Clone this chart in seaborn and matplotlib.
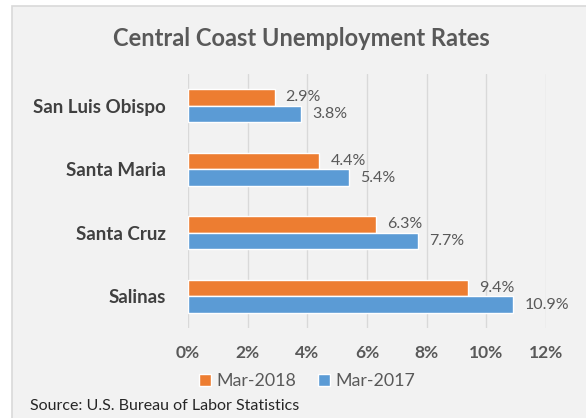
import matplotlib
matplotlib.use("Agg")
import matplotlib.pyplot as plt
import matplotlib.transforms as mtransforms
from matplotlib.patches import Rectangle
from matplotlib.ticker import FuncFormatter
import pandas as pd
import seaborn as sns

# Unemployment rates (%) by city
cities = ["San Luis Obispo", "Santa Maria", "Santa Cruz", "Salinas"]
rate_mar_2018 = [2.9, 4.4, 6.3, 9.4]
rate_mar_2017 = [3.8, 5.4, 7.7, 10.9]
periods = ["Mar-2018", "Mar-2017"]
x_ticks = [0, 2, 4, 6, 8, 10, 12]

df = pd.DataFrame({
    "city": cities * 2,
    "rate": rate_mar_2018 + rate_mar_2017,
    "period": [periods[0]] * len(cities) + [periods[1]] * len(cities),
})

sns.set_theme(style="white")
plt.rcParams["font.family"] = ["Lato", "DejaVu Sans"]

W, H = 586, 418
fig = plt.figure(figsize=(W / 100, H / 100), dpi=100)
fig.patch.set_facecolor("white")

# chart frame
frame = Rectangle((12 / W, -0.05), 1.0, 1.05 - 6.5 / H, transform=fig.transFigure,
                  facecolor="#f2f2f2", edgecolor="#d9d9d9", linewidth=1.2, zorder=-5)
fig.patches.append(frame)

ax = fig.add_axes([188 / W, 1 - 328 / H, 358 / W, 254 / H])
ax.set_facecolor("none")
ax.set_zorder(2)

palette = {"Mar-2018": "#ED7D31", "Mar-2017": "#5B9BD5"}
sns.barplot(data=df, y="city", x="rate", hue="period", order=cities,
            hue_order=periods, palette=palette, orient="h", width=0.52,
            saturation=1, ax=ax, legend=False, zorder=3)

# value labels, nudged slightly below the bar centre
nudge = mtransforms.ScaledTranslation(0, -2 / 100, fig.dpi_scale_trans)
for cont in ax.containers:
    texts = ax.bar_label(cont, labels=[f"{v:.1f}%" for v in cont.datavalues],
                         padding=8, color="#595959", fontsize=11.5)
    for t in texts:
        t.set_transform(t.get_transform() + nudge)

ax.set_xlim(0, 12)
ax.set_ylim(3.5, -0.5)
ax.set_xticks(x_ticks)
ax.xaxis.set_major_formatter(FuncFormatter(lambda v, p: f"{v:.0f}%"))
ax.grid(axis="x", color="#d9d9d9", linewidth=1, zorder=0)
ax.set_axisbelow(True)
for s in ax.spines.values():
    s.set_visible(False)
ax.tick_params(axis="both", length=0)
ax.tick_params(axis="x", pad=12, labelsize=12.5, labelcolor="#595959")
ax.tick_params(axis="y", pad=16, labelsize=13.5, labelcolor="#404040")
for t in ax.get_xticklabels() + ax.get_yticklabels():
    t.set_fontweight("bold")
ax.set_xlabel("")
ax.set_ylabel("")

fig.text(301 / W, 1 - 38 / H, "Central Coast Unemployment Rates", ha="center",
         va="center", fontsize=17, fontweight="bold", color="#595959")

handles = [Rectangle((0, 0), 1, 1, facecolor=palette[p]) for p in periods]
fig.legend(handles, periods, loc="center", bbox_to_anchor=(307 / W, 1 - 381 / H),
           ncol=2, frameon=False, fontsize=12.8, labelcolor="#595959",
           handlelength=0.7, handleheight=0.7, handletextpad=0.3, columnspacing=1.2)

fig.text(30 / W, 1 - 406 / H, "Source: U.S. Bureau of Labor Statistics",
         ha="left", va="center", fontsize=11.5, color="#262626")

fig.savefig("out.png", dpi=100)
